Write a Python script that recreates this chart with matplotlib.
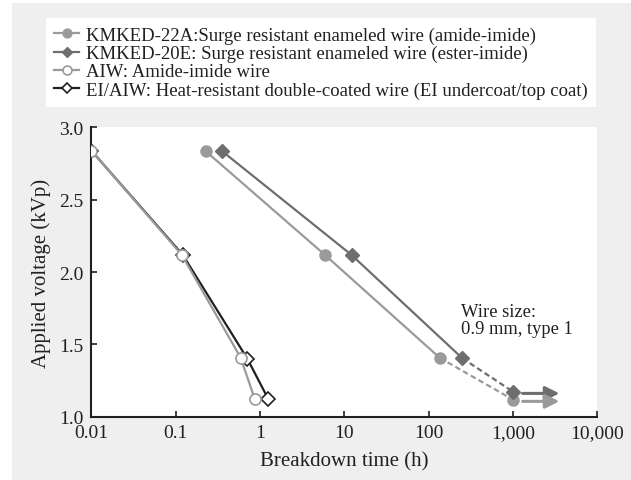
import matplotlib.pyplot as plt
from matplotlib.patches import Rectangle

# --- Data ---
km22a_t = [0.228, 5.96, 136, 1000]
km22a_v = [2.835, 2.116, 1.406, 1.118]

km20e_t = [0.357, 12.2, 251, 1000]
km20e_v = [2.835, 2.118, 1.404, 1.173]

aiw_t = [0.01, 0.118, 0.59, 0.87]
aiw_v = [2.84, 2.12, 1.408, 1.12]

eiaiw_t = [0.01, 0.121, 0.71, 1.26]
eiaiw_v = [2.84, 2.12, 1.40, 1.12]

labels = [
    'KMKED-22A:Surge resistant enameled wire (amide-imide)',
    'KMKED-20E: Surge resistant enameled wire (ester-imide)',
    'AIW: Amide-imide wire',
    'EI/AIW: Heat-resistant double-coated wire (EI undercoat/top coat)',
]
xticks = [0.01, 0.1, 1, 10, 100, 1000, 10000]
xticklabels = ['0.01', '0.1', '1', '10', '100', '1,000', '10,000']
yticks = [1.0, 1.5, 2.0, 2.5, 3.0]

# --- Style ---
plt.rcParams['font.family'] = ['Liberation Serif', 'DejaVu Serif']
plt.rcParams['font.size'] = 14
DARK = '#231f20'
LIGHT = '#9a9a9a'
MID = '#6e6e6e'
BG = '#efefef'

fig = plt.figure(figsize=(6.31, 4.81), dpi=100)
fig.patch.set_facecolor('white')
fig.patches.append(Rectangle((12 / 631, 0), 1, 1 - 4 / 481, transform=fig.transFigure,
                             facecolor=BG, edgecolor='none', zorder=-10))

ax = fig.add_axes([91.3 / 631, (481 - 417.7) / 481, 506 / 631, 289.3 / 481])
ax.set_facecolor('white')
ax.set_xscale('log')
ax.set_xlim(0.01, 10000)
ax.set_ylim(1.0, 3.0)

lw = 1.6
ms = 8

# EI/AIW first so AIW circles sit on top
h_ei, = ax.plot(eiaiw_t, eiaiw_v, color=DARK, lw=lw, marker='D', ms=7,
                mfc='white', mec=DARK, mew=1.2, zorder=3)
h_aiw, = ax.plot(aiw_t, aiw_v, color=LIGHT, lw=lw, marker='o', ms=ms,
                 mfc='white', mec=LIGHT, mew=1.2, zorder=4)

# surge resistant wires: solid up to third point, dashed to the 1,000 h point
h_22a, = ax.plot(km22a_t[:3], km22a_v[:3], color=LIGHT, lw=lw, marker='o', ms=ms,
                 mfc=LIGHT, mec=LIGHT, zorder=3)
ax.plot(km22a_t[2:], km22a_v[2:], color=LIGHT, lw=lw, ls='--', dashes=(2.5, 1.5), zorder=2)
ax.plot(km22a_t[3:], km22a_v[3:], color=LIGHT, ls='none', marker='o', ms=ms, zorder=3)

h_20e, = ax.plot(km20e_t[:3], km20e_v[:3], color=MID, lw=lw, marker='D', ms=7,
                 mfc=MID, mec=MID, zorder=3)
ax.plot(km20e_t[2:], km20e_v[2:], color=MID, lw=lw, ls='--', dashes=(2.5, 1.5), zorder=2)
ax.plot(km20e_t[3:], km20e_v[3:], color=MID, ls='none', marker='D', ms=7, zorder=4)

# "still not broken" arrows
for t, v, c in [(km20e_t[-1], km20e_v[-1], MID), (km22a_t[-1], km22a_v[-1], LIGHT)]:
    ax.annotate('', xy=(t * 3.55, v - 0.012), xytext=(t * 1.3, v - 0.012),
                arrowprops=dict(arrowstyle='-|>,head_length=0.6,head_width=0.3',
                                color=c, lw=2.2, mutation_scale=14, shrinkA=0, shrinkB=0))

ax.text(0.731, 0.334, 'Wire size:\n0.9 mm, type 1', transform=ax.transAxes,
        ha='left', va='center', color=DARK, linespacing=1.0, fontsize=13.3)

# axes styling
for s in ['top', 'right']:
    ax.spines[s].set_visible(False)
for s in ['left', 'bottom']:
    ax.spines[s].set_color(DARK)
    ax.spines[s].set_linewidth(1.5)
ax.set_xticks(xticks)
ax.set_xticklabels(xticklabels)
ax.minorticks_off()
ax.set_yticks(yticks)
ax.set_yticklabels([f'{v:.1f}' for v in yticks])
ax.tick_params(direction='in', length=4.5, width=1.2, color=DARK, labelcolor=DARK,
               pad=5.5, labelsize=14)
ax.set_xlabel('Breakdown time (h)', color=DARK, labelpad=7, fontsize=15)
ax.set_ylabel('Applied voltage (kVp)', color=DARK, labelpad=6, fontsize=15)

leg = fig.legend([h_22a, h_20e, h_aiw, h_ei], labels, loc='upper left',
                 bbox_to_anchor=(45.7 / 631, 1 - 19.3 / 481), borderaxespad=0,
                 frameon=True, fancybox=False, framealpha=1, edgecolor='none',
                 facecolor='white', handlelength=1.35, handletextpad=0.35,
                 labelspacing=0.05, borderpad=0.45, fontsize=13.5, markerscale=0.8)
for txt in leg.get_texts():
    txt.set_color(DARK)

fig.savefig('out.png', dpi=100, facecolor=fig.get_facecolor())
